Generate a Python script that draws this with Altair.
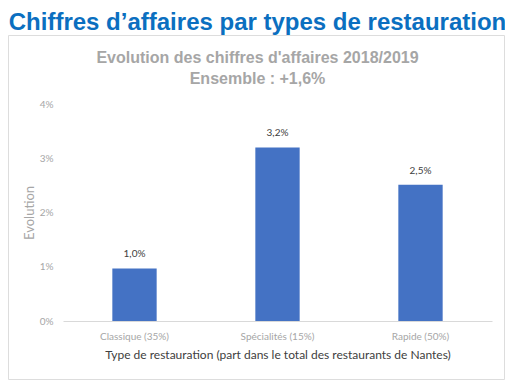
import altair as alt
import pandas as pd

categories = ["Classique (35%)", "Spécialités (15%)", "Rapide (50%)"]
values = [0.0097, 0.032, 0.0251]
value_labels = ["1,0%", "3,2%", "2,5%"]

main_title = "Chiffres d\u2019affaires par types de restauration"
sub_title = ["Evolution des chiffres d'affaires 2018/2019", "Ensemble : +1,6%"]
x_title = "Type de restauration (part dans le total des restaurants de Nantes)"
y_title = "Evolution"

df = pd.DataFrame({"cat": categories, "val": values, "lab": value_labels})

W, H = 429, 217

frame = alt.Chart(pd.DataFrame({"a": [0]})).mark_rect(
    fillOpacity=0, stroke="#DDDDDD", strokeWidth=1
).encode(
    x=alt.value(-54.5), x2=alt.value(441.5), y=alt.value(-68.5), y2=alt.value(275.5)
)

xenc = alt.X(
    "cat:N", sort=None, title=x_title,
    scale=alt.Scale(paddingInner=0.69, paddingOuter=0.345),
    axis=alt.Axis(
        labelAngle=0, ticks=False, domainColor="#D9D9D9", labelColor="#A6A6A6",
        labelFont="Lato", labelFontSize=10, labelPadding=10,
        titleFont="Lato", titleFontSize=12, titleFontWeight="normal",
        titleColor="#404040", titlePadding=8,
    ),
)
yenc = alt.Y(
    "val:Q", title=y_title,
    scale=alt.Scale(domain=[0, 0.04]),
    axis=alt.Axis(
        format=".0%", values=[0, 0.01, 0.02, 0.03, 0.04],
        grid=False, domain=False, ticks=False, labelColor="#A6A6A6",
        labelFont="Lato", labelFontSize=10, labelPadding=10,
        titleFont="Lato", titleFontSize=13, titleFontWeight="normal",
        titleColor="#A6A6A6", titleX=-34, titleY=108.5, titleBaseline="middle",
        titleAlign="center",
    ),
)

bars = alt.Chart(df).mark_bar(color="#4472C4").encode(x=xenc, y=yenc)
labels = alt.Chart(df).mark_text(
    dy=-9, baseline="bottom", font="Lato", fontSize=10, color="#404040"
).encode(x=alt.X("cat:N", sort=None), y="val:Q", text="lab:N")

chart = alt.layer(frame, bars, labels).properties(
    width=W, height=H,
    padding={"left": 55, "top": 96, "right": 13, "bottom": 59},
    autosize=alt.AutoSizeParams(type="none"),
    title=alt.TitleParams(
        text=main_title, subtitle=sub_title,
        anchor="middle", frame="group", dx=-20,
        font="Liberation Sans", fontSize=24, fontWeight="bold", color="#0B6FC0",
        subtitleFont="Liberation Sans", subtitleFontSize=16, subtitleFontWeight="bold",
        subtitleColor="#A6A6A6", subtitlePadding=15, subtitleLineHeight=21, offset=-52,
    ),
).configure_view(stroke=None)

chart.save("out.html", embed_options={"renderer": "svg", "actions": False})
